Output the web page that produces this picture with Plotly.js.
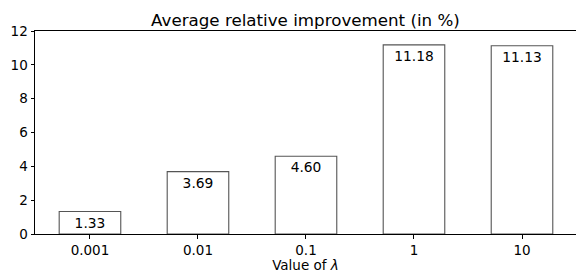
<!DOCTYPE html>
<html><head><meta charset="utf-8">
<script src="https://cdn.plot.ly/plotly-3.0.1.min.js"></script>
<style>html,body{margin:0;padding:0;overflow:hidden;background:#fff}</style>
</head><body><div id="chart" style="width:576px;height:273px"></div>
<script>
var categories = ['0.001', '0.01', '0.1', '1', '10'];
var improvements = [1.33, 3.69, 4.60, 11.18, 11.13];
var labels = ['1.33', '3.69', '4.60', '11.18', '11.13'];
var yTicks = [0, 2, 4, 6, 8, 10, 12];

var font = 'DejaVu Sans, sans-serif';
Plotly.newPlot('chart', [{
  type: 'bar',
  x: categories,
  y: improvements,
  text: labels,
  textposition: 'inside',
  insidetextanchor: 'end',
  textangle: 0,
  constraintext: 'none',
  textfont: {family: font, size: 13.8, color: '#000'},
  width: 0.57,
  marker: {color: '#fff', line: {color: '#555', width: 1.1}},
  hoverinfo: 'none'
}], {
  width: 576, height: 273,
  margin: {l: 35, r: 0, t: 31, b: 39},
  paper_bgcolor: '#fff', plot_bgcolor: '#fff',
  font: {family: font, size: 13.5, color: '#000'},
  title: {text: 'Average relative improvement (in %)', font: {family: font, size: 16.7, color: '#000'}, x: 0.5, xref: 'paper', y: 1, yref: 'paper', yanchor: 'bottom', pad: {b: 5}},
  showlegend: false,
  xaxis: {
    type: 'category', range: [-0.509, 4.5],
    showline: true, linecolor: '#000', linewidth: 1, mirror: true,
    ticks: 'outside', ticklen: 3.5, tickcolor: '#000', showgrid: false, zeroline: false,
    tickfont: {family: font, size: 13.5, color: '#000'},
    title: {text: 'Value of <i>λ</i>', font: {family: font, size: 13.5, color: '#000'}, standoff: 2}
  },
  yaxis: {
    range: [0, 12], tickvals: yTicks, ticktext: yTicks.map(String),
    showline: true, linecolor: '#000', linewidth: 1,
    ticks: 'outside', ticklen: 3.5, tickcolor: '#000', showgrid: false, zeroline: false,
    tickfont: {family: font, size: 13.5, color: '#000'}
  },
  bargap: 0
}, {staticPlot: true, displayModeBar: false});
</script></body></html>
